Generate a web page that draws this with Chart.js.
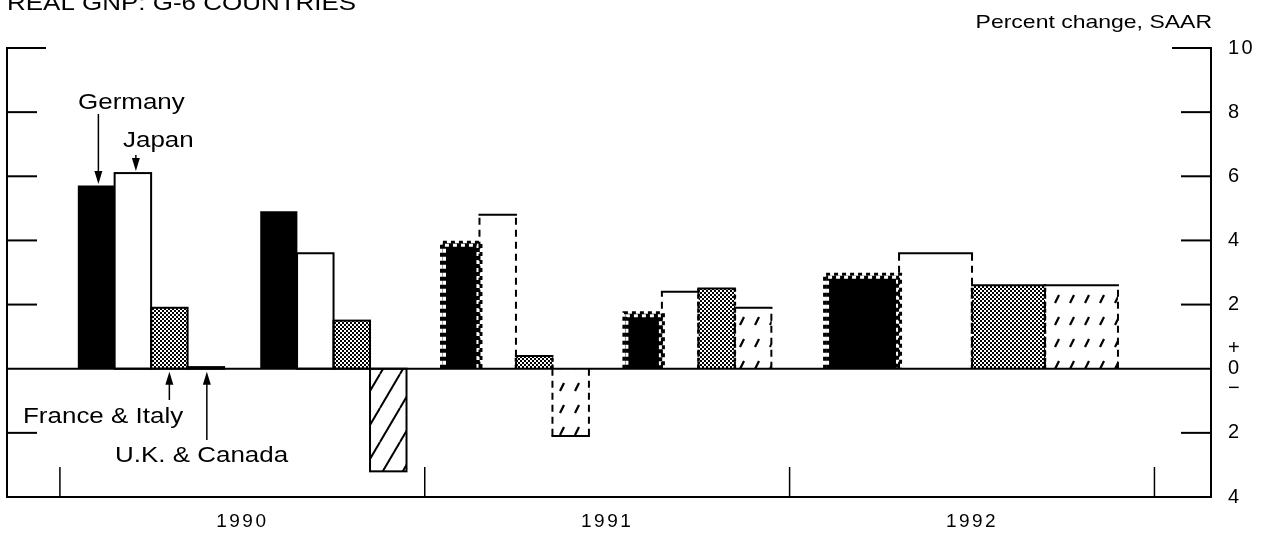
<!DOCTYPE html>
<html>
<head>
<meta charset="utf-8">
<title>Real GNP: G-6 Countries</title>
<script src="https://cdn.jsdelivr.net/npm/chart.js@4.4.1/dist/chart.umd.min.js"></script>
<style>
  body { margin: 0; background: #fff; }
  canvas { display: block; }
</style>
</head>
<body>
<canvas id="gnpChart" width="1265" height="534"></canvas>
<script>
const countries = ['Germany', 'Japan', 'France & Italy', 'U.K. & Canada'];
const halfYearStarts = [1990.0, 1990.5, 1991.0, 1991.5];
const projectedHalf = [false, false, true, true];
const germanyHalf = [5.7, 4.9, 3.9, 1.7];
const japanHalf = [6.1, 3.6, 4.8, 2.4];
const franceItalyHalf = [1.9, 1.5, 0.4, 2.5];
const ukCanadaHalf = [0.05, -3.2, -2.1, 1.9];
const annualYear = 1992;
const annualValues = [2.9, 3.6, 2.6, 2.6]; // Germany, Japan, France & Italy, U.K. & Canada
const yearLabels = ['1990', '1991', '1992'];
const yMin = -4, yMax = 10, yStep = 2;

const FONT = '"Liberation Sans", Arial, Helvetica, sans-serif';
const slot = 0.1; // one half-year bar, in years

function makePattern(w, h, draw) {
    const c = document.createElement('canvas');
    c.width = w; c.height = h;
    const g = c.getContext('2d');
    g.fillStyle = '#fff';
    g.fillRect(0, 0, w, h);
    draw(g, w, h);
    return document.getElementById('gnpChart').getContext('2d').createPattern(c, 'repeat');
}

const stipple = makePattern(4, 4, g => {
    g.fillStyle = '#000';
    g.fillRect(0, 0, 2, 2);
    g.fillRect(2, 2, 2, 2);
});

const hatchSolid = makePattern(20, 34, (g, w, h) => {
    g.strokeStyle = '#000';
    g.lineWidth = 2;
    for (let k = -1; k <= 1; k++) {
        g.beginPath();
        g.moveTo(k * w, h);
        g.lineTo(k * w + w, 0);
        g.stroke();
    }
});

const hatchDashed = makePattern(15, 22, g => {
    g.strokeStyle = '#000';
    g.lineWidth = 2.2;
    g.beginPath();
    g.moveTo(5, 17);
    g.lineTo(9, 9);
    g.stroke();
});

function fillFor(country, proj) {
    if (country === 0) return '#000';
    if (country === 1) return '#fff';
    if (country === 2) return stipple;
    return proj ? hatchDashed : hatchSolid;
}

const halfSeries = [germanyHalf, japanHalf, franceItalyHalf, ukCanadaHalf];
const datasets = [];
countries.forEach((name, i) => {
    const half = halfSeries[i].map((v, k) => ({ x: halfYearStarts[k] + (i + 1) * slot, y: v, proj: projectedHalf[k] }));
    datasets.push({
        label: name,
        country: i,
        data: half,
        backgroundColor: half.map(d => fillFor(i, d.proj)),
        barPercentage: 1
    });
    datasets.push({
        label: name + ' ' + annualYear,
        country: i,
        data: [{ x: annualYear + (i + 1) * 2 * slot, y: annualValues[i], proj: true }],
        backgroundColor: fillFor(i, true),
        barPercentage: 2
    });
});

function line(ctx, x0, y0, x1, y1) {
    ctx.beginPath();
    ctx.moveTo(x0, y0);
    ctx.lineTo(x1, y1);
    ctx.stroke();
}

// three-sided outline (left side, value edge, right side), shifted by d
function sides(ctx, l, r, edge, base, up, d) {
    ctx.beginPath();
    ctx.moveTo(l - d, base);
    ctx.lineTo(l - d, edge - up * d);
    ctx.lineTo(r + d, edge - up * d);
    ctx.lineTo(r + d, base);
    ctx.stroke();
}

const barOutlines = {
    id: 'barOutlines',
    afterDatasetsDraw(chart) {
        const ctx = chart.ctx;
        chart.data.datasets.forEach((ds, di) => {
            const meta = chart.getDatasetMeta(di);
            meta.data.forEach((bar, k) => {
                const p = bar.getProps(['x', 'y', 'base', 'width'], true);
                const l = p.x - p.width / 2, r = p.x + p.width / 2;
                const edge = p.y, base = p.base;
                const up = edge < base ? 1 : -1;
                const proj = ds.data[k].proj;
                ctx.save();
                ctx.strokeStyle = '#000';
                ctx.lineWidth = 2;
                if (ds.country === 0) {
                    if (proj) {
                        ctx.lineWidth = 3;
                        ctx.setLineDash([4, 4]);
                        sides(ctx, l, r, edge, base, up, 1.5);
                        ctx.strokeStyle = '#fff';
                        ctx.lineDashOffset = 4;
                        sides(ctx, l, r, edge, base, up, -1.5);
                    }
                } else if (!proj) {
                    ctx.strokeRect(l, Math.min(edge, base), r - l, Math.abs(base - edge));
                } else {
                    line(ctx, l - 1, edge, r + 1, edge);
                    ctx.setLineDash(ds.country === 2 ? [4, 3] : [7, 5]);
                    if (ds.country === 2) ctx.lineWidth = 2.5;
                    line(ctx, l, base, l, edge);
                    line(ctx, r, base, r, edge);
                }
                ctx.restore();
            });
        });
    }
};

const frame = {
    id: 'frame',
    afterDatasetsDraw(chart) {
        const ctx = chart.ctx;
        const a = chart.chartArea;
        const y = chart.scales.y, x = chart.scales.x;
        ctx.save();
        ctx.strokeStyle = '#000';
        ctx.lineWidth = 2;
        ctx.lineCap = 'square';
        line(ctx, a.left, a.top, a.left, a.bottom);
        line(ctx, a.right, a.top, a.right, a.bottom);
        y.ticks.forEach(t => {
            const py = y.getPixelForValue(t.value);
            if (t.value === yMin || t.value === 0) {
                line(ctx, a.left, py, a.right, py);
            } else {
                const len = t.value === yMax ? 38 : 29;
                line(ctx, a.left, py, a.left + len, py);
                line(ctx, a.right - len, py, a.right, py);
            }
        });
        ctx.lineWidth = 1.5;
        ctx.lineCap = 'butt';
        const bounds = yearLabels.map(Number).concat(Number(yearLabels[yearLabels.length - 1]) + 1);
        bounds.forEach(v => {
            const px = x.getPixelForValue(v);
            line(ctx, px, a.bottom, px, a.bottom - 30);
        });
        ctx.restore();
    }
};

function drawText(ctx, text, x, y, size, sx, align) {
    ctx.save();
    ctx.letterSpacing = '0px';
    ctx.translate(x, y);
    ctx.scale(sx, 1);
    ctx.font = size + 'px ' + FONT;
    ctx.textAlign = align || 'left';
    ctx.textBaseline = 'alphabetic';
    ctx.fillStyle = '#000';
    ctx.fillText(text, 0, 0);
    ctx.restore();
}

function arrow(ctx, x, y0, y1) {
    const dir = Math.sign(y1 - y0);
    ctx.beginPath();
    ctx.moveTo(x, y0);
    ctx.lineTo(x, y1 - dir * 10);
    ctx.stroke();
    ctx.beginPath();
    ctx.moveTo(x, y1);
    ctx.lineTo(x - 4, y1 - dir * 13);
    ctx.lineTo(x + 4, y1 - dir * 13);
    ctx.closePath();
    ctx.fill();
}

const annotations = {
    id: 'annotations',
    beforeDraw(chart) {
        chart.ctx.letterSpacing = '2.5px';
    },
    afterDraw(chart) {
        const ctx = chart.ctx;
        ctx.letterSpacing = '0px';
        drawText(ctx, 'REAL GNP: G-6 COUNTRIES', 7, 10, 22, 1.18, 'left');
        drawText(ctx, 'Percent change, SAAR', 1212, 28, 19, 1.21, 'right');
        drawText(ctx, countries[0], 78, 109, 22, 1.18, 'left');
        drawText(ctx, countries[1], 123, 147, 22, 1.18, 'left');
        drawText(ctx, countries[2], 23, 423, 22, 1.18, 'left');
        drawText(ctx, countries[3], 115, 462, 22, 1.18, 'left');

        const barOf = i => chart.getDatasetMeta(i * 2).data[0].getProps(['x', 'y', 'base'], true);
        ctx.save();
        ctx.strokeStyle = '#000';
        ctx.fillStyle = '#000';
        ctx.lineWidth = 1.5;
        const g = barOf(0), j = barOf(1), f = barOf(2), u = barOf(3);
        arrow(ctx, g.x + 2, 114, g.y - 2);
        arrow(ctx, j.x + 3, 155, j.y - 2);
        arrow(ctx, f.x, 400, f.base + 3);
        arrow(ctx, u.x + 1, 440, u.base + 3);
        ctx.restore();
    }
};

new Chart(document.getElementById('gnpChart'), {
    type: 'bar',
    data: { datasets: datasets },
    options: {
        responsive: false,
        animation: false,
        datasets: {
            bar: {
                grouped: false,
                categoryPercentage: 1,
                borderWidth: 0
            }
        },
        layout: { padding: { top: 48, left: 7, right: 0, bottom: 0 } },
        plugins: {
            colors: { enabled: false },
            legend: { display: false },
            tooltip: { enabled: false }
        },
        scales: {
            x: {
                type: 'linear',
                offset: false,
                min: 1989.855,
                max: 1993.155,
                grid: { display: false, drawTicks: false, offset: false },
                border: { display: false },
                afterBuildTicks: s => { s.ticks = yearLabels.map(l => ({ value: Number(l) + 0.5 })); },
                afterFit: s => { s.height = 37; },
                ticks: {
                    padding: 13,
                    color: '#000',
                    maxRotation: 0,
                    autoSkip: false,
                    font: { family: FONT, size: 19 },
                    callback: (v, i) => yearLabels[i]
                }
            },
            y: {
                position: 'right',
                min: yMin,
                max: yMax,
                grid: { display: false, drawTicks: false },
                border: { display: false },
                afterFit: s => { s.width = 54; },
                ticks: {
                    stepSize: yStep,
                    padding: 17,
                    color: '#000',
                    font: { family: FONT, size: 20, lineHeight: 1 },
                    callback: v => v === 0 ? ['+', '0', '\u2212'] : String(Math.abs(v))
                }
            }
        }
    },
    plugins: [barOutlines, frame, annotations]
});
</script>
</body>
</html>
